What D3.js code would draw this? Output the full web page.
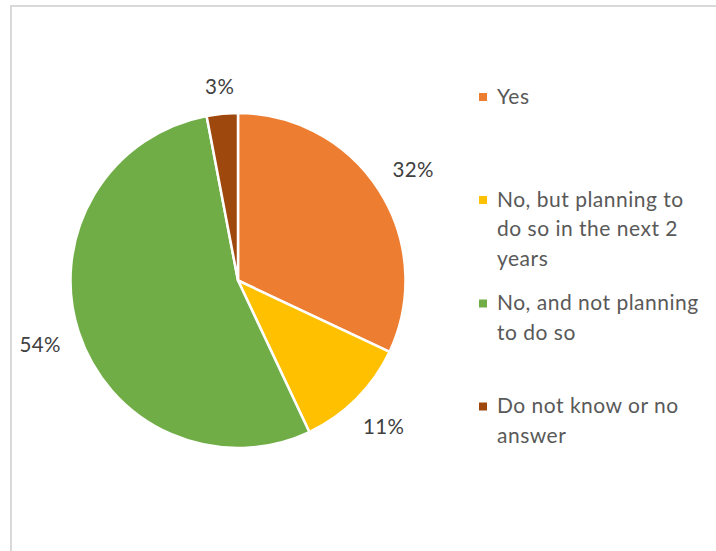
<!DOCTYPE html>
<html>
<head>
<meta charset="utf-8">
<script src="https://cdn.jsdelivr.net/npm/d3@7"></script>
<style>
  body { margin: 0; background: #fff; }
  svg { display: block; font-family: Lato, "Open Sans", sans-serif; }
</style>
</head>
<body>
<svg id="svg" width="716" height="551"></svg>
<script>
var categories = ["Yes", "No, but planning to do so in the next 2 years", "No, and not planning to do so", "Do not know or no answer"];
var values = [32, 11, 54, 3];
var legendLines = [["Yes"], ["No, but planning to", "do so in the next 2", "years"], ["No, and not planning", "to do so"], ["Do not know or no", "answer"]];
var colors = ["#ED7D31", "#FFC000", "#70AD47", "#9E480E"];

var svg = d3.select("svg"),
    width = +svg.attr("width"),
    height = +svg.attr("height");

// chart frame (cut off at right and bottom)
svg.append("rect")
    .attr("x", 11).attr("y", 6)
    .attr("width", 800).attr("height", 700)
    .attr("fill", "#fff")
    .attr("stroke", "#d9d9d9")
    .attr("stroke-width", 2);

var cx = 238, cy = 280.5, radius = 167.5;

var color = d3.scaleOrdinal().domain(categories).range(colors);

var pie = d3.pie().sort(null).value(function (d, i) { return values[i]; });
var arcs = pie(categories);

var arc = d3.arc().innerRadius(0).outerRadius(radius);

var g = svg.append("g").attr("transform", "translate(" + cx + "," + cy + ")");

g.selectAll(".slice")
    .data(arcs)
    .enter().append("path")
    .attr("class", "slice")
    .attr("d", arc)
    .attr("fill", function (d) { return color(d.data); })
    .attr("stroke", "#fff")
    .attr("stroke-width", 2.5)
    .attr("stroke-linejoin", "round");

// data labels outside the pie, box kept a fixed gap from the edge
var gap = 186;
var labels = g.selectAll(".lbl")
    .data(arcs)
    .enter().append("text")
    .attr("class", "lbl")
    .attr("text-anchor", "middle")
    .attr("font-size", "20.5px")
    .attr("letter-spacing", "0.4px")
    .attr("fill", "#404040")
    .text(function (d) { return Math.round(values[d.index]) + "%"; });

labels.each(function (d) {
    var bb = this.getBBox();
    var a = (d.startAngle + d.endAngle) / 2;
    var ux = Math.sin(a), uy = -Math.cos(a);
    var hw = bb.width / 2, hh = 7.5;
    var dist = gap + hw * Math.abs(ux) + hh * Math.abs(uy);
    d3.select(this)
        .attr("x", ux * dist)
        .attr("y", uy * dist + 7.5);
});

// legend
var legendX = 479, textX = 497, lineH = 29.5;
var legendBase = [103.5, 206.5, 310, 413];

var legend = svg.selectAll(".legend")
    .data(categories)
    .enter().append("g")
    .attr("class", "legend");

legend.append("rect")
    .attr("x", legendX)
    .attr("y", function (d, i) { return legendBase[i] - 10.5; })
    .attr("width", 8).attr("height", 8)
    .attr("fill", function (d) { return color(d); });

legend.append("text")
    .attr("font-size", "21px")
    .attr("letter-spacing", "0.5px")
    .attr("fill", "#595959")
    .each(function (d, i) {
        var t = d3.select(this);
        legendLines[i].forEach(function (line, j) {
            t.append("tspan")
                .attr("x", textX)
                .attr("y", legendBase[i] + j * lineH)
                .text(line);
        });
    });
</script>
</body>
</html>
